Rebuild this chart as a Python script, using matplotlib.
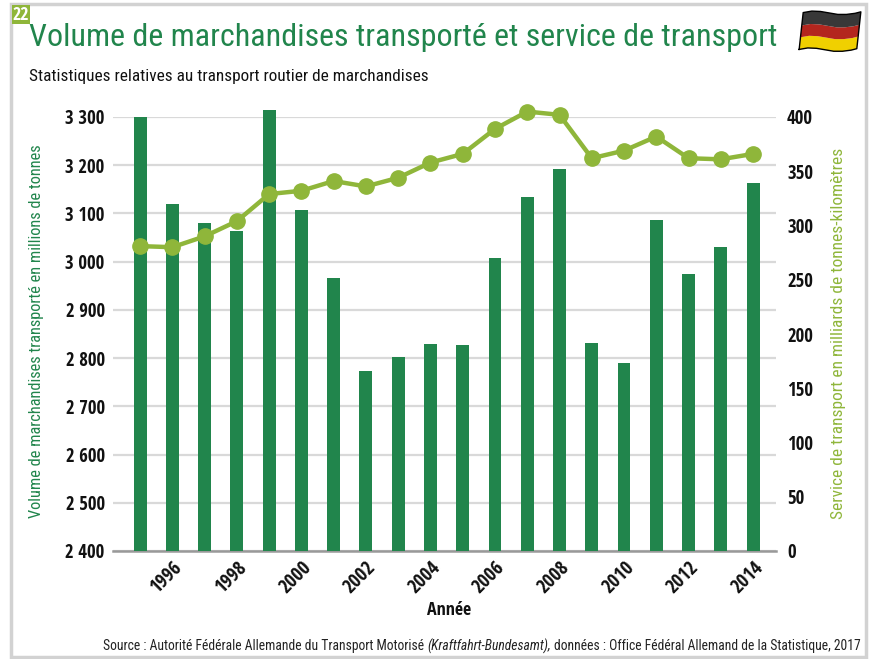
import numpy as np
from matplotlib import pyplot as plt
from matplotlib.patches import Rectangle

# Data
years = [1995, 1996, 1997, 1998, 1999, 2000, 2001, 2002, 2003, 2004,
         2005, 2006, 2007, 2008, 2009, 2010, 2011, 2012, 2013, 2014]
volume = [3300, 3120, 3080, 3064, 3315, 3107, 2966, 2774, 2802, 2829,
          2827, 3007, 3134, 3192, 2831, 2790, 3086, 2974, 3030, 3163]
service = [281, 280, 290, 304, 329, 332, 341, 336, 344, 358,
           366, 389, 405, 402, 362, 369, 382, 362, 361, 366]
left_ticks = [2400, 2500, 2600, 2700, 2800, 2900, 3000, 3100, 3200, 3300]
left_labels = ['2 400', '2 500', '2 600', '2 700', '2 800', '2 900', '3 000', '3 100', '3 200', '3 300']
right_ticks = [0, 50, 100, 150, 200, 250, 300, 350, 400]
year_ticks = [1996, 1998, 2000, 2002, 2004, 2006, 2008, 2010, 2012, 2014]

W, H = 870, 659
dark_green = '#21854c'
light_green = '#8fb63a'
narrow = ['Roboto Condensed', 'DejaVu Sans']
narrow_bold = ['Open Sans Condensed', 'Roboto Condensed', 'DejaVu Sans']

fig = plt.figure(figsize=(W/100, H/100), dpi=100)

def box(x0, y0, x1, y1):
    # pixel box (top-left origin) to figure fractions
    return [x0/W, 1-y1/H, (x1-x0)/W, (y1-y0)/H]

# grey page frame
fig.add_artist(Rectangle((11/W, 1-657/H), 855/W, 653/H, transform=fig.transFigure,
                         fill=False, ec='#d2d2d2', lw=2.5))

ax = fig.add_axes(box(113, 117, 776, 551))
bars = ax.bar(years, np.array(volume)-2400, bottom=2400, width=0.4, color=dark_green, zorder=3)
ax.set_xlim(1994.16, 2014.71)
ax.set_ylim(2400, 3300)
ax.set_yticks(left_ticks)
ax.set_yticklabels(left_labels, family=narrow_bold, fontsize=13.5, fontweight='bold', color='#111111')
ax.set_xticks(year_ticks)
ax.set_xticklabels(year_ticks, family=narrow_bold, fontsize=14, fontweight='bold', rotation=45, ha='right',
                   rotation_mode='anchor', color='#111111')
ax.tick_params(axis='both', length=0)
ax.tick_params(axis='y', pad=6)
ax.tick_params(axis='x', pad=5)
ax.grid(axis='y', color='#d9d9d9', lw=1.6, zorder=0)
ax.set_axisbelow(True)
for s in ['top', 'left', 'right']:
    ax.spines[s].set_visible(False)
ax.spines['bottom'].set_color('#999999')
ax.spines['bottom'].set_linewidth(1.8)
for b in bars:
    b.set_clip_on(False)

ax2 = ax.twinx()
ax2.plot(years, service, color=light_green, lw=3.2, marker='o', ms=11, zorder=5, clip_on=False)
ax2.set_ylim(0, 400)
ax2.set_yticks(right_ticks)
ax2.set_yticklabels(right_ticks, family=narrow_bold, fontsize=13.5, fontweight='bold', color='#111111')
ax2.tick_params(axis='y', length=0, pad=8)
for s in ax2.spines.values():
    s.set_visible(False)

fig.text(37/W, 1-331/H, 'Volume de marchandises transporté en millions de tonnes', family=narrow,
         fontsize=11.8, color=dark_green, rotation=90, ha='center', va='center')
fig.text(839/W, 1-333/H, 'Service de transport en milliards de tonnes-kilomètres', family=narrow,
         fontsize=12.5, color=light_green, rotation=90, ha='center', va='center')
fig.text(449/W, 1-610/H, 'Année', family=narrow_bold, fontsize=13, fontweight='bold',
         color='#111111', ha='center', va='center')

fig.text(29/W, 1-37/H, 'Volume de marchandises transporté et service de transport',
         family=['Roboto Condensed', 'DejaVu Sans'], fontsize=23, color=dark_green,
         ha='left', va='center')
fig.text(29/W, 1-76/H, 'Statistiques relatives au transport routier de marchandises',
         family=narrow, fontsize=12.4, color='#111111', ha='left', va='center')

# source line in three pieces, the middle one in italics
renderer = fig.canvas.get_renderer()
src_x = 103
for piece, sty in [('Source : Autorité Fédérale Allemande du Transport Motorisé', 'normal'),
                   ('(Kraftfahrt-Bundesamt),', 'italic'),
                   ('données : Office Fédéral Allemand de la Statistique, 2017', 'normal')]:
    t = fig.text(src_x/W, 1-646/H, piece, family=narrow, style=sty, fontsize=9.8,
                 color='#222222', ha='left', va='center')
    src_x = t.get_window_extent(renderer).x1 + 3

# "22" badge
fig.add_artist(Rectangle((12/W, 1-24/H), 18/W, 19/H, transform=fig.transFigure,
                         fc=light_green, ec='none'))
fig.text(21/W, 1-15/H, '22', family=narrow_bold, fontsize=13, fontweight='bold', color='white',
         ha='center', va='center')

# flag, three wavy bands with a slight shear
fa = fig.add_axes(box(798, 10, 862, 52))
fa.axis('off')
fx = np.array([0.0, 0.15, 0.3, 0.45, 0.6, 0.75, 0.9, 1.0])
wave = np.array([0.0, 0.04, 0.03, -0.01, -0.05, -0.05, -0.02, 0.02])
edges = [0.0, 0.33, 0.65, 1.0]
colours = ['#f0d000', '#b3261e', '#383838']
def sheared(v):
    return fx + 0.07*v

for k in range(3):
    xs = np.r_[sheared(edges[k]), sheared(edges[k+1])[::-1]]
    ys = np.r_[edges[k]+wave, (edges[k+1]+wave)[::-1]]
    fa.fill(xs, ys, color=colours[k], lw=0)
fa.plot(np.r_[sheared(0.0), sheared(1.0)[::-1], sheared(0.0)[0]],
        np.r_[wave, (1.0+wave)[::-1], wave[0]], color='black', lw=1)
fa.set_xlim(-0.02, 1.09)
fa.set_ylim(-0.07, 1.07)

fig.savefig('out.png', dpi=100)
